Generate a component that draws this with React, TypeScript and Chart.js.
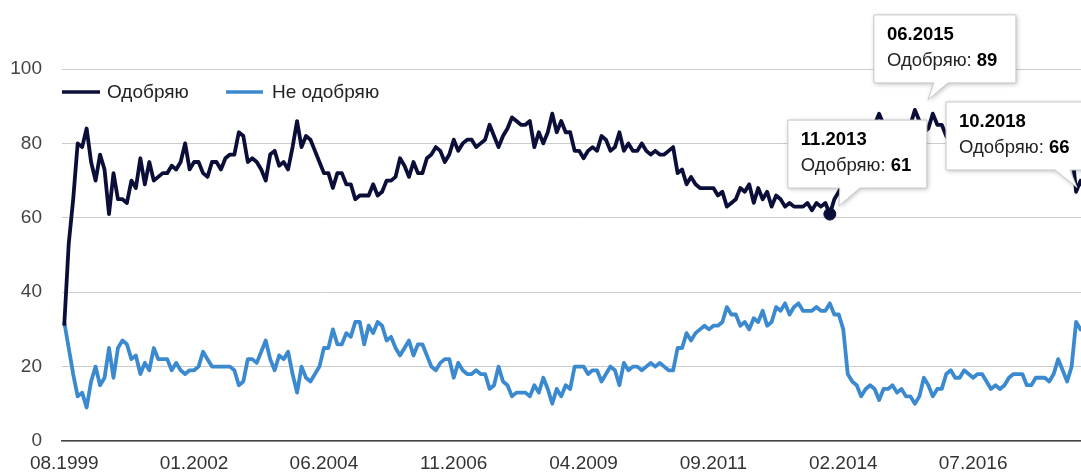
import React, { useEffect, useRef } from "react";
import { Chart, registerables } from "chart.js";

Chart.register(...registerables);

// ---------- DATA ----------
const START_YEAR = 1999;
const START_MONTH = 8; // 08.1999

const approve = [
  31, 53, 65, 80, 79, 84, 75, 70, 77, 73,
  61, 72, 65, 65, 64, 70, 68, 76, 69, 75,
  70, 71, 72, 72, 74, 73, 75, 80, 73, 75,
  75, 72, 71, 75, 75, 73, 76, 77, 77, 83,
  82, 75, 76, 75, 73, 70, 77, 78, 74, 75,
  73, 79, 86, 79, 82, 81, 78, 75, 72, 72,
  68, 72, 72, 69, 69, 65, 66, 66, 66, 69,
  66, 67, 70, 70, 71, 76, 74, 71, 75, 72,
  72, 76, 77, 79, 78, 75, 77, 81, 78, 80,
  81, 81, 79, 80, 81, 85, 82, 79, 82, 84,
  87, 86, 85, 85, 86, 79, 83, 80, 83, 88,
  83, 86, 83, 83, 78, 78, 76, 78, 79, 78,
  82, 81, 78, 79, 83, 78, 80, 78, 78, 80,
  78, 77, 78, 77, 77, 78, 79, 72, 73, 69,
  71, 69, 68, 68, 68, 68, 66, 67, 63, 64,
  65, 68, 67, 69, 64, 68, 65, 67, 63, 66,
  65, 63, 64, 63, 63, 63, 64, 62, 64, 63,
  64, 61, 65, 67, 69, 80, 82, 83, 85, 85,
  84, 85, 88, 85, 85, 84, 85, 85, 85, 85,
  89, 86, 83, 84, 88, 85, 85, 82, 80, 83,
  82, 81, 82, 82, 81, 81, 83, 86, 84, 86,
  84, 82, 81, 81, 81, 84, 84, 83, 83, 81,
  83, 81, 77, 80, 82, 79, 67, 70, 67, 67,
  66,
];

const disapprove = [
  32, 25, 18, 12, 13, 9, 16, 20, 15, 17,
  25, 17, 25, 27, 26, 22, 23, 18, 21, 19,
  25, 22, 22, 22, 19, 21, 19, 18, 19, 19,
  20, 24, 22, 20, 20, 20, 20, 20, 19, 15,
  16, 22, 22, 21, 24, 27, 22, 19, 23, 22,
  24, 18, 13, 20, 17, 16, 18, 20, 25, 25,
  30, 26, 26, 29, 28, 32, 32, 26, 31, 29,
  32, 31, 27, 28, 25, 23, 25, 27, 23, 26,
  26, 23, 20, 19, 21, 22, 22, 17, 21, 19,
  18, 18, 19, 18, 18, 14, 15, 20, 16, 15,
  12, 13, 13, 13, 12, 15, 13, 17, 14, 10,
  14, 12, 15, 14, 20, 20, 20, 18, 19, 19,
  16, 18, 20, 19, 15, 21, 19, 20, 20, 19,
  20, 21, 20, 21, 20, 19, 19, 25, 25, 29,
  27, 29, 30, 31, 30, 31, 31, 32, 36, 34,
  34, 31, 32, 30, 33, 32, 35, 31, 32, 36,
  35, 37, 34, 36, 37, 35, 35, 35, 36, 35,
  35, 37, 34, 34, 30, 18, 16, 15, 12, 14,
  15, 14, 11, 14, 14, 15, 13, 14, 12, 12,
  10, 12, 17, 15, 12, 14, 14, 18, 19, 17,
  17, 19, 18, 17, 18, 18, 16, 14, 15, 14,
  15, 17, 18, 18, 18, 15, 15, 17, 17, 17,
  16, 18, 22, 19, 16, 20, 32, 30, 31, 32,
  33,
];

const months: string[] = approve.map((_, i) => {
  const k = START_MONTH - 1 + i;
  const m = (k % 12) + 1;
  const y = START_YEAR + Math.floor(k / 12);
  return `${String(m).padStart(2, "0")}.${y}`;
});

const xTickLabels = ["08.1999", "01.2002", "06.2004", "11.2006", "04.2009", "09.2011", "02.2014", "07.2016"];
const seriesNames = ["Одобряю", "Не одобряю"];
const calloutMonths = ["11.2013", "06.2015", "10.2018"];
const markedMonth = "11.2013";

// ---------- STYLE ----------
const DARK = "#0b0e38";
const LIGHT = "#3b89cf";
const FONT = 'Arial, "Liberation Sans", sans-serif';
const CANVAS_W = 1105;

const calloutLayout = [
  { dx: -42, dy: -94, w: 139, tail: [52, 72], tip: [9, -8] },
  { dx: -41, dy: -95, w: 142, tail: [60, 74], tip: [13, -10] },
  { dx: -148, dy: -93.5, w: 140, tail: [109, 124], tip: [-17, -8] },
];

const overlayPlugin = {
  id: "overlay",
  afterDraw(chart: any) {
    const ctx: CanvasRenderingContext2D = chart.ctx;
    const area = chart.chartArea;
    const xs = chart.scales.x;
    const ys = chart.scales.y;

    // legend
    ctx.save();
    const ly = area.top + 23;
    const items = [
      { name: seriesNames[0], color: DARK, x0: area.left, x1: area.left + 38, tx: area.left + 45 },
      { name: seriesNames[1], color: LIGHT, x0: area.left + 164, x1: area.left + 201, tx: area.left + 210 },
    ];
    ctx.font = `19px ${FONT}`;
    ctx.textBaseline = "middle";
    ctx.textAlign = "left";
    for (const it of items) {
      ctx.strokeStyle = it.color;
      ctx.lineWidth = 3.5;
      ctx.beginPath();
      ctx.moveTo(it.x0, ly);
      ctx.lineTo(it.x1, ly);
      ctx.stroke();
      ctx.fillStyle = "#222";
      ctx.fillText(it.name, it.tx, ly + 1);
    }
    ctx.restore();

    // callouts
    calloutMonths.forEach((mon, k) => {
      const idx = months.indexOf(mon);
      if (idx < 0) return;
      const val = approve[idx];
      const px = xs.getPixelForValue(idx);
      const py = ys.getPixelForValue(val);
      const o = calloutLayout[k];
      const L = px + o.dx;
      const T = py + o.dy;
      const R = L + o.w;
      const B = T + 68;
      ctx.save();
      ctx.beginPath();
      ctx.moveTo(L, T);
      ctx.lineTo(R, T);
      ctx.lineTo(R, B);
      ctx.lineTo(L + o.tail[1], B);
      ctx.lineTo(px + o.tip[0], py + o.tip[1]);
      ctx.lineTo(L + o.tail[0], B);
      ctx.lineTo(L, B);
      ctx.closePath();
      ctx.shadowColor = "rgba(0,0,0,0.28)";
      ctx.shadowBlur = 5;
      ctx.shadowOffsetX = 1;
      ctx.shadowOffsetY = 1;
      ctx.fillStyle = "#ffffff";
      ctx.fill();
      ctx.shadowColor = "transparent";
      ctx.shadowBlur = 0;
      ctx.strokeStyle = "#c8c8c8";
      ctx.lineWidth = 1;
      ctx.stroke();

      ctx.textBaseline = "middle";
      ctx.textAlign = "left";
      ctx.fillStyle = "#000";
      ctx.font = `bold 18.5px ${FONT}`;
      ctx.fillText(mon, L + 13, T + 20);
      const lab = seriesNames[0] + ": ";
      ctx.font = `18.5px ${FONT}`;
      ctx.fillStyle = "#222";
      ctx.fillText(lab, L + 13, T + 46);
      const w = ctx.measureText(lab).width;
      ctx.font = `bold 18.5px ${FONT}`;
      ctx.fillStyle = "#000";
      ctx.fillText(String(val), L + 13 + w, T + 46);
      ctx.restore();
    });
  },
};

export default function App() {
  const ref = useRef<HTMLCanvasElement | null>(null);

  useEffect(() => {
    if (!ref.current) return;
    const markIdx = months.indexOf(markedMonth);
    const chart = new Chart(ref.current, {
      type: "line",
      data: {
        labels: months,
        datasets: [
          {
            label: seriesNames[0],
            data: approve,
            borderColor: DARK,
            backgroundColor: DARK,
            borderWidth: 3.8,
            tension: 0,
            borderJoinStyle: "round",
            pointRadius: (c: any) => (c.dataIndex === markIdx ? 6 : 0),
            pointBackgroundColor: DARK,
            pointBorderColor: DARK,
            pointBorderWidth: 1,
            pointHoverRadius: 0,
            order: 0,
          },
          {
            label: seriesNames[1],
            data: disapprove,
            borderColor: LIGHT,
            backgroundColor: LIGHT,
            borderWidth: 3.8,
            tension: 0,
            borderJoinStyle: "round",
            pointRadius: 0,
            pointHoverRadius: 0,
            order: 1,
          },
        ],
      },
      options: {
        animation: false,
        responsive: false,
        devicePixelRatio: 1,
        events: [],
        layout: { padding: { top: 69, left: 0, right: 0, bottom: 0 } },
        plugins: { legend: { display: false }, tooltip: { enabled: false } },
        scales: {
          x: {
            type: "category",
            offset: true,
            grid: { display: false, drawTicks: false },
            border: { display: true, color: "#444", width: 1.5 },
            ticks: {
              autoSkip: false,
              maxRotation: 0,
              minRotation: 0,
              padding: 11,
              color: "#333",
              font: { family: FONT, size: 19 },
              callback: (_v: any, i: number) => (xTickLabels.includes(months[i]) ? months[i] : ""),
            },
            afterFit: (s: any) => {
              s.height = 32;
            },
          },
          y: {
            min: 0,
            max: 100,
            ticks: {
              stepSize: 20,
              padding: 20,
              color: "#444",
              font: { family: FONT, size: 19 },
            },
            grid: { color: "#cccccc", lineWidth: 1, drawTicks: false },
            border: { display: false },
            afterFit: (s: any) => {
              s.width = 62;
            },
          },
        },
      },
      plugins: [overlayPlugin],
    });
    return () => chart.destroy();
  }, []);

  return (
    <div
      style={{
        position: "fixed",
        left: 0,
        top: 0,
        width: 1081,
        height: 473,
        overflow: "hidden",
        background: "#fff",
      }}
    >
      <canvas ref={ref} width={CANVAS_W} height={473} style={{ display: "block", width: CANVAS_W, height: 473 }} />
    </div>
  );
}
